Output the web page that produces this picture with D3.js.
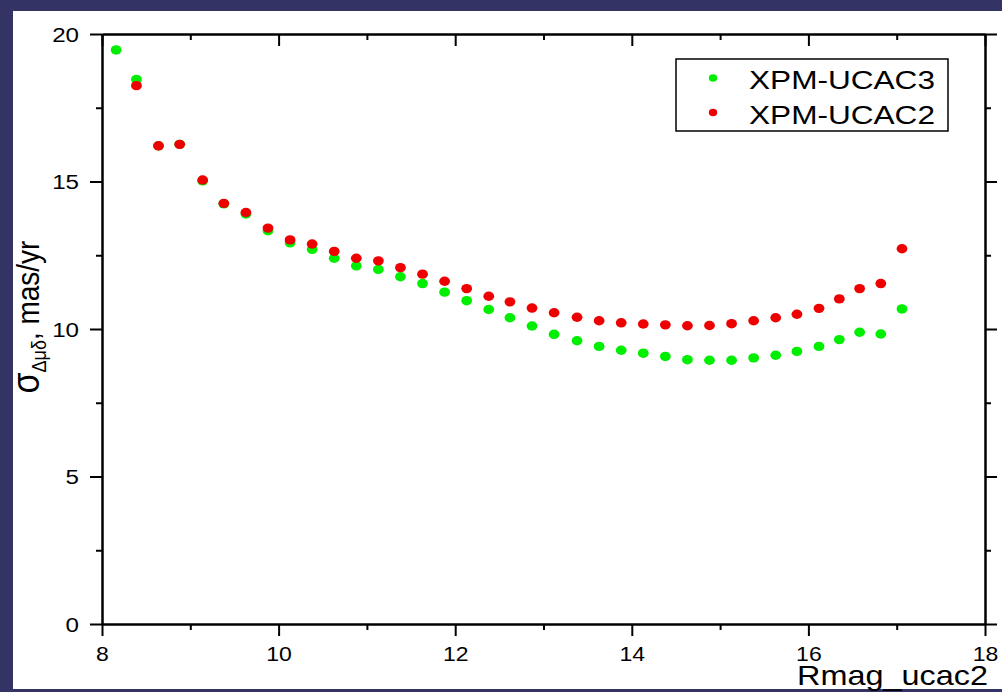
<!DOCTYPE html>
<html>
<head>
<meta charset="utf-8">
<script src="https://cdn.jsdelivr.net/npm/d3@7"></script>
<style>
  html, body { margin: 0; padding: 0; background: #333366; }
  svg { display: block; }
  text { font-family: "Liberation Sans", Arial, sans-serif; fill: #000; }
</style>
</head>
<body>
<svg id="chart" width="1002" height="692"></svg>
<script>
// ---- data ----
const rmag = [8.16, 8.39, 8.64, 8.88, 9.14, 9.38, 9.63, 9.88, 10.13, 10.38, 10.63, 10.88,
  11.13, 11.38, 11.63, 11.88, 12.13, 12.38, 12.62, 12.87, 13.12, 13.38, 13.63, 13.88,
  14.13, 14.38, 14.63, 14.88, 15.13, 15.38, 15.63, 15.87, 16.12, 16.35, 16.58, 16.82, 17.06];
const ucac3 = [19.46, 18.46, 16.21, 16.26, 15.02, 14.24, 13.90, 13.33, 12.92, 12.70, 12.40, 12.14,
  12.02, 11.77, 11.54, 11.25, 10.96, 10.66, 10.38, 10.10, 9.82, 9.60, 9.41, 9.28,
  9.18, 9.07, 8.96, 8.94, 8.94, 9.02, 9.11, 9.24, 9.41, 9.64, 9.89, 9.83, 10.68];
const ucac2 = [20.20, 18.25, 16.21, 16.26, 15.05, 14.26, 13.95, 13.42, 13.02, 12.88, 12.63, 12.40,
  12.31, 12.08, 11.86, 11.62, 11.37, 11.11, 10.92, 10.71, 10.55, 10.40, 10.28, 10.21,
  10.17, 10.14, 10.11, 10.12, 10.18, 10.28, 10.38, 10.50, 10.70, 11.02, 11.37, 11.54, 12.72];
const seriesNames = ["XPM-UCAC3", "XPM-UCAC2"];
const seriesColors = ["#00ee00", "#ee0000"];
const xMajorTicks = [8, 10, 12, 14, 16, 18];
const xMinorTicks = [9, 11, 13, 15, 17];
const yMajorTicks = [0, 5, 10, 15, 20];
const yMinorTicks = [2.5, 7.5, 12.5, 17.5];
const xTitle = "Rmag_ucac2";

// ---- layout ----
const svg = d3.select("#chart");
const L = 102, R = 985, T = 34, B = 624;
const SX = 1.15; // horizontal stretch of the reference's text

svg.append("rect").attr("x", 13).attr("y", 11).attr("width", 989).attr("height", 678).attr("fill", "#fff");

const x = d3.scaleLinear().domain([8, 18]).range([L, R]);
const y = d3.scaleLinear().domain([0, 20]).range([B, T]);

svg.append("defs").append("clipPath").attr("id", "plotclip")
  .append("rect").attr("x", L - 20).attr("y", T).attr("width", R - L + 40).attr("height", B - T + 30);

const dots = svg.append("g").attr("clip-path", "url(#plotclip)");
[ucac3, ucac2].forEach((vals, si) => {
  dots.selectAll(null).data(vals).join("ellipse")
    .attr("cx", (d, i) => x(rmag[i]))
    .attr("cy", d => y(d))
    .attr("rx", 5.4).attr("ry", 4.7)
    .attr("fill", seriesColors[si]);
});

// ---- axes ----
function styleAxis(g) {
  g.select(".domain").attr("stroke", "#000").attr("stroke-width", 2.5);
  g.selectAll(".tick line").attr("stroke", "#000").attr("stroke-width", 2);
}
// left
const gl = svg.append("g").attr("transform", `translate(${L},0)`)
  .call(d3.axisLeft(y).tickValues(yMajorTicks).tickSize(12).tickSizeOuter(0).tickFormat(d3.format("d")));
styleAxis(gl);
gl.selectAll(".tick text").attr("x", -23 / SX).attr("dy", "0.34em")
  .attr("transform", `scale(${SX},1)`).style("font-size", "21px");
const glm = svg.append("g").attr("transform", `translate(${L},0)`)
  .call(d3.axisLeft(y).tickValues(yMinorTicks).tickSize(6).tickSizeOuter(0).tickFormat(""));
styleAxis(glm); glm.select(".domain").remove();
// right
const gr = svg.append("g").attr("transform", `translate(${R},0)`)
  .call(d3.axisLeft(y).tickValues(yMajorTicks).tickSize(-12).tickSizeOuter(0).tickFormat(""));
styleAxis(gr);
const grm = svg.append("g").attr("transform", `translate(${R},0)`)
  .call(d3.axisLeft(y).tickValues(yMinorTicks).tickSize(-6).tickSizeOuter(0).tickFormat(""));
styleAxis(grm); grm.select(".domain").remove();
// top
const gt = svg.append("g").attr("transform", `translate(0,${T})`)
  .call(d3.axisBottom(x).tickValues(xMajorTicks).tickSize(12).tickSizeOuter(0).tickFormat(""));
styleAxis(gt);
const gtm = svg.append("g").attr("transform", `translate(0,${T})`)
  .call(d3.axisBottom(x).tickValues(xMinorTicks).tickSize(6).tickSizeOuter(0).tickFormat(""));
styleAxis(gtm); gtm.select(".domain").remove();
// bottom
const gb = svg.append("g").attr("transform", `translate(0,${B})`)
  .call(d3.axisBottom(x).tickValues(xMajorTicks).tickSize(12).tickSizeOuter(0).tickFormat(d3.format("d")));
styleAxis(gb);
gb.selectAll(".tick text").attr("y", 37).attr("dy", 0)
  .attr("transform", `scale(${SX},1)`).style("font-size", "20px");
const gbm = svg.append("g").attr("transform", `translate(0,${B})`)
  .call(d3.axisBottom(x).tickValues(xMinorTicks).tickSize(6).tickSizeOuter(0).tickFormat(""));
styleAxis(gbm); gbm.select(".domain").remove();
[gl, gr, gt, gb].forEach(g => g.attr("font-family", null).attr("font-size", null));

// ---- titles ----
svg.append("text").attr("x", 988).attr("y", 685).attr("text-anchor", "end")
  .style("font-size", "28px").attr("textLength", 191).attr("lengthAdjust", "spacingAndGlyphs")
  .text(xTitle);

const yt = svg.append("text").attr("transform", `translate(39,317) rotate(-90) scale(1,${SX})`)
  .attr("text-anchor", "middle");
yt.append("tspan").style("font-size", "34px").text("σ");
yt.append("tspan").style("font-size", "18px").attr("dy", 6).text("Δμδ");
yt.append("tspan").style("font-size", "28px").attr("dy", -6).text(", mas/yr");

// ---- legend ----
const lg = svg.append("g");
lg.append("rect").attr("x", 676).attr("y", 59).attr("width", 272).attr("height", 72)
  .attr("fill", "#fff").attr("stroke", "#000").attr("stroke-width", 1.5);
seriesNames.forEach((name, i) => {
  const cy = 78 + i * 34.5;
  lg.append("ellipse").attr("cx", 713).attr("cy", cy).attr("rx", 4.2).attr("ry", 3.7)
    .attr("fill", seriesColors[i]);
  lg.append("text").attr("x", 749).attr("y", cy + 11).style("font-size", "26px")
    .attr("textLength", 186).attr("lengthAdjust", "spacingAndGlyphs").text(name);
});
</script>
</body>
</html>
